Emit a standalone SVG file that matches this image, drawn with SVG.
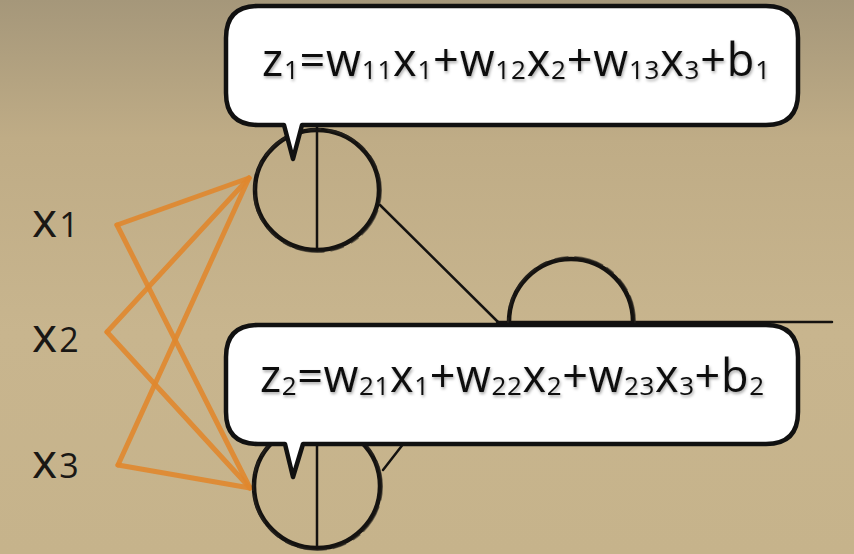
<svg xmlns="http://www.w3.org/2000/svg" width="854" height="554" viewBox="0 0 854 554">
  <defs>
    <linearGradient id="bg" x1="0" y1="0" x2="0" y2="1">
      <stop offset="0" stop-color="#a5977a"/>
      <stop offset="0.25" stop-color="#bfac86"/>
      <stop offset="0.6" stop-color="#c8b58e"/>
      <stop offset="1" stop-color="#c6b38b"/>
    </linearGradient>
    <filter id="shadow" x="-5%" y="-30%" width="110%" height="160%">
      <feDropShadow dx="1" dy="2" stdDeviation="1.5" flood-color="#000" flood-opacity="0.35"/>
    </filter>
  </defs>
  <style>
    .orange { stroke: #e0872e; stroke-width: 5; stroke-linecap: round; stroke-linejoin: round; fill: none; opacity: 0.9; }
    .ring { fill: none; stroke: #141210; stroke-width: 4.5; }
    .ring2 { fill: none; stroke: #2a2622; stroke-width: 2; stroke-dasharray: 14 6 30 4 9 8; opacity: 0.6; }
    .ink { stroke: #141210; stroke-width: 2.5; fill: none; stroke-linecap: round; }
    .bubble { fill: #ffffff; stroke: #111; stroke-width: 4.5; stroke-linejoin: round; }
    .formula { font-family: "Open Sans", "DejaVu Sans", sans-serif; font-size: 45px; font-weight: 500; fill: #111; }
    .sub { font-size: 26px; font-weight: 400; }
    .label { font-family: "Open Sans", "DejaVu Sans", sans-serif; font-size: 48px; font-weight: 500; fill: #1a1815; }
    .labsub { font-size: 34px; font-weight: 400; }
  </style>

  <rect x="0" y="0" width="854" height="554" fill="url(#bg)"/>

  <g id="connectors">
    <line class="orange" x1="117" y1="225" x2="249" y2="178"/>
    <line class="orange" x1="107" y1="332" x2="249" y2="178"/>
    <line class="orange" x1="118" y1="465" x2="249" y2="178"/>
    <line class="orange" x1="117" y1="225" x2="250" y2="488"/>
    <line class="orange" x1="107" y1="332" x2="250" y2="488"/>
    <line class="orange" x1="118" y1="465" x2="250" y2="488"/>
    <line class="ink" x1="380" y1="205" x2="498" y2="322"/>
    <line class="ink" x1="383" y1="470" x2="498" y2="322"/>
    <line class="ink" x1="498" y1="322" x2="832" y2="322" stroke-width="3"/>
  </g>

  <g id="x1">
    <text class="label" x="32" y="237">x<tspan class="labsub" dx="2">1</tspan></text>
  </g>
  <g id="x2">
    <text class="label" x="32" y="352">x<tspan class="labsub" dx="2">2</tspan></text>
  </g>
  <g id="x3">
    <text class="label" x="32" y="478">x<tspan class="labsub" dx="2">3</tspan></text>
  </g>

  <g id="neuron1">
    <ellipse class="ring" cx="317" cy="190" rx="62" ry="60"/>
    <ellipse class="ring2" cx="317.5" cy="190.5" rx="63.5" ry="61.5"/>
    <line class="ink" x1="317" y1="127" x2="317" y2="250"/>
  </g>

  <g id="neuron3">
    <ellipse class="ring" cx="317" cy="486" rx="63" ry="62"/>
    <ellipse class="ring2" cx="317.5" cy="486.5" rx="64.5" ry="63.5"/>
    <line class="ink" x1="317" y1="444" x2="317" y2="548"/>
  </g>

  <g id="output">
    <ellipse class="ring" cx="571" cy="322" rx="62" ry="63"/>
    <ellipse class="ring2" cx="571.5" cy="321.5" rx="63.5" ry="64.5"/>
  </g>

  <g id="bubble1">
    <path class="bubble" d="M258,6 H766 Q798,6 798,38 V93 Q798,125 766,125 H302 L293,159 L284,125 H258 Q226,125 226,93 V38 Q226,6 258,6 Z"/>
    <text class="formula" x="262" y="76" textLength="508" lengthAdjust="spacing" filter="url(#shadow)">z<tspan class="sub" dy="3">1</tspan><tspan dy="-3">=w</tspan><tspan class="sub" dy="3">11</tspan><tspan dy="-3">x</tspan><tspan class="sub" dy="3">1</tspan><tspan dy="-3">+w</tspan><tspan class="sub" dy="3">12</tspan><tspan dy="-3">x</tspan><tspan class="sub" dy="3">2</tspan><tspan dy="-3">+w</tspan><tspan class="sub" dy="3">13</tspan><tspan dy="-3">x</tspan><tspan class="sub" dy="3">3</tspan><tspan dy="-3">+b</tspan><tspan class="sub" dy="3">1</tspan></text>
  </g>

  <g id="bubble2">
    <path class="bubble" d="M258,325 H766 Q798,325 798,357 V412 Q798,444 766,444 H303 L293,477 L285,444 H258 Q226,444 226,412 V357 Q226,325 258,325 Z"/>
    <text class="formula" x="260" y="392" textLength="504" lengthAdjust="spacing" filter="url(#shadow)">z<tspan class="sub" dy="3">2</tspan><tspan dy="-3">=w</tspan><tspan class="sub" dy="3">21</tspan><tspan dy="-3">x</tspan><tspan class="sub" dy="3">1</tspan><tspan dy="-3">+w</tspan><tspan class="sub" dy="3">22</tspan><tspan dy="-3">x</tspan><tspan class="sub" dy="3">2</tspan><tspan dy="-3">+w</tspan><tspan class="sub" dy="3">23</tspan><tspan dy="-3">x</tspan><tspan class="sub" dy="3">3</tspan><tspan dy="-3">+b</tspan><tspan class="sub" dy="3">2</tspan></text>
  </g>
</svg>
